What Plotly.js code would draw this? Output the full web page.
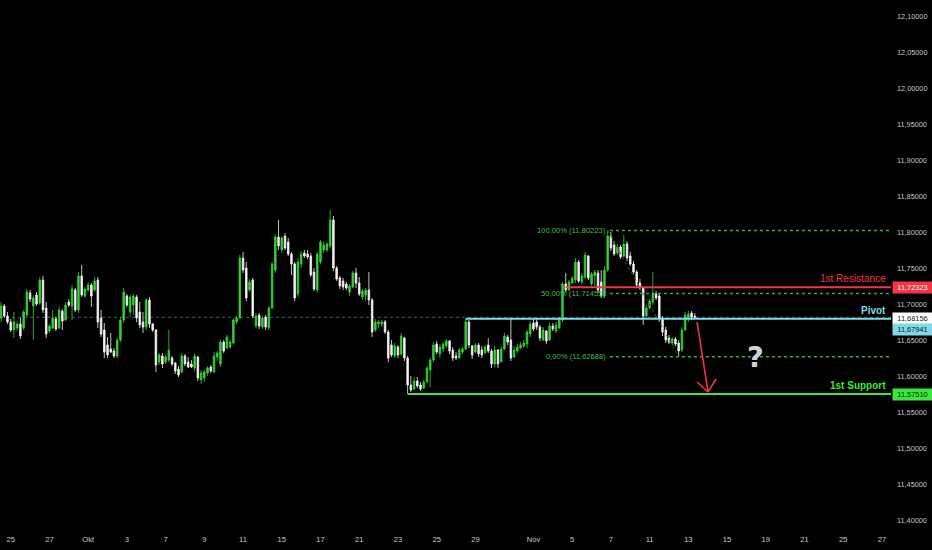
<!DOCTYPE html>
<html><head><meta charset="utf-8">
<script src="https://cdn.plot.ly/plotly-3.0.1.min.js"></script>
<style>html,body{margin:0;padding:0;background:#000;}#chart{width:932px;height:550px;}</style>
</head><body><div id="chart"></div>
<script>
// 4h candles, EUR/NOK-style, Sep 24 2024 12:00 .. Nov 13 2024 08:00 (index = candle number)
const openP = [
11.6806,11.6972,11.6833,11.6750,11.6639,11.6667,11.6722,11.6667,11.6847,11.7153,
11.6972,11.7125,11.7014,11.7333,11.6944,11.6625,11.6667,11.6792,11.6667,11.6903,
11.6778,11.7028,11.6972,11.7194,11.6917,11.7389,11.7111,11.7194,11.7264,11.7194,
11.7333,11.6806,11.6639,11.6431,11.6375,11.6347,11.6278,11.6500,11.6778,11.7111,
11.6889,11.6986,11.7097,11.6889,11.6750,11.6681,11.7056,11.6722,11.6639,11.6194,
11.6278,11.6194,11.6222,11.6250,11.6181,11.6097,11.6056,11.6278,11.6194,11.6167,
11.6111,11.6264,11.5944,11.5972,11.6042,11.6125,11.6056,11.6264,11.6167,11.6472,
11.6389,11.6403,11.6458,11.6750,11.6806,11.7639,11.7500,11.7194,11.7333,11.6694,
11.6847,11.6681,11.6819,11.6667,11.6944,11.7472,11.7931,11.7750,11.7944,11.7861,
11.7694,11.7556,11.7139,11.7556,11.7708,11.7694,11.7667,11.7444,11.7194,11.7583,
11.7750,11.7750,11.7806,11.8167,11.7500,11.7361,11.7319,11.7278,11.7167,11.7236,
11.7431,11.7292,11.7097,11.7125,11.7194,11.7056,11.6639,11.6722,11.6722,11.6750,
11.6611,11.6431,11.6278,11.6403,11.6306,11.6528,11.6250,11.5875,11.5819,11.5931,
11.5875,11.5833,11.5917,11.6083,11.6222,11.6444,11.6306,11.6375,11.6417,11.6486,
11.6361,11.6278,11.6250,11.6333,11.6375,11.6750,11.6417,11.6333,11.6431,11.6361,
11.6319,11.6431,11.6347,11.6167,11.6361,11.6194,11.6375,11.6542,11.6500,11.6264,
11.6347,11.6389,11.6417,11.6444,11.6583,11.6736,11.6750,11.6681,11.6500,11.6625,
11.6500,11.6694,11.6625,11.6667,11.6778,11.7278,11.7194,11.7292,11.7333,11.7583,
11.7306,11.7375,11.7667,11.7278,11.7389,11.7431,11.7306,11.7111,11.7472,11.7944,
11.7819,11.7708,11.7792,11.7667,11.7833,11.7667,11.7556,11.7444,11.7292,11.7222,
11.6833,11.6944,11.7028,11.7139,11.7111,11.6806,11.6639,11.6528,11.6458,11.6514,
11.6458,11.6361,11.6639,11.6806,11.6875,11.6833];
const highP = [
11.7028,11.7000,11.6889,11.6792,11.6889,11.6764,11.6806,11.6917,11.7208,11.7194,
11.7111,11.7167,11.7375,11.7389,11.7028,11.6722,11.6917,11.6819,11.6958,11.6931,
11.7028,11.7069,11.7264,11.7222,11.7444,11.7542,11.7236,11.7306,11.7292,11.7375,
11.7375,11.6917,11.6736,11.6542,11.6597,11.6389,11.6528,11.6819,11.7222,11.7139,
11.7125,11.7139,11.7125,11.7028,11.6889,11.7083,11.7097,11.6736,11.6653,11.6319,
11.6319,11.6292,11.6639,11.6278,11.6194,11.6139,11.6319,11.6306,11.6264,11.6222,
11.6306,11.6278,11.6083,11.6083,11.6139,11.6153,11.6333,11.6347,11.6500,11.6500,
11.6569,11.6500,11.6806,11.6833,11.7681,11.7722,11.7583,11.7347,11.7361,11.6875,
11.6875,11.6833,11.6847,11.6972,11.7583,11.7972,11.8167,11.7944,11.7986,11.7917,
11.7722,11.7583,11.7639,11.7736,11.7750,11.7750,11.7708,11.7500,11.7722,11.7889,
11.7875,11.7861,11.8306,11.8222,11.7528,11.7389,11.7361,11.7306,11.7278,11.7458,
11.7500,11.7375,11.7208,11.7222,11.7444,11.7083,11.6792,11.6778,11.6778,11.6778,
11.6639,11.6500,11.6458,11.6431,11.6597,11.6542,11.6278,11.6000,11.5986,11.5986,
11.5917,11.5944,11.6139,11.6250,11.6472,11.6486,11.6444,11.6472,11.6514,11.6500,
11.6403,11.6333,11.6389,11.6403,11.6794,11.6778,11.6431,11.6458,11.6458,11.6417,
11.6431,11.6528,11.6375,11.6417,11.6375,11.6417,11.6597,11.6569,11.6806,11.6417,
11.6444,11.6472,11.6500,11.6639,11.6764,11.6806,11.6806,11.6708,11.6681,11.6639,
11.6736,11.6736,11.6750,11.6819,11.7306,11.7431,11.7333,11.7389,11.7639,11.7611,
11.7431,11.7722,11.7681,11.7444,11.7472,11.7472,11.7472,11.7528,11.8022,11.8000,
11.7875,11.7833,11.7819,11.7958,11.7875,11.7722,11.7597,11.7472,11.7347,11.7250,
11.6986,11.7069,11.7444,11.7181,11.7153,11.6833,11.6681,11.6569,11.6542,11.6542,
11.6500,11.6681,11.6889,11.6903,11.6903,11.6875];
const lowP = [
11.6750,11.6806,11.6722,11.6611,11.6528,11.6625,11.6514,11.6639,11.6819,11.7028,
11.6500,11.6972,11.6986,11.6875,11.6528,11.6597,11.6653,11.6625,11.6653,11.6639,
11.6764,11.6958,11.6778,11.6889,11.6875,11.7097,11.7083,11.7167,11.6958,11.7167,
11.6667,11.6542,11.6250,11.6250,11.6319,11.6250,11.6250,11.6472,11.6736,11.6958,
11.6819,11.6847,11.6750,11.6667,11.6597,11.6639,11.6667,11.6611,11.6056,11.6153,
11.6111,11.6167,11.6194,11.6139,11.6028,11.5986,11.6042,11.6139,11.6111,11.6111,
11.6069,11.5931,11.5889,11.5917,11.6000,11.6042,11.6042,11.6208,11.6125,11.6319,
11.6375,11.6375,11.6444,11.6722,11.6792,11.7431,11.7042,11.7167,11.6806,11.6667,
11.6653,11.6653,11.6639,11.6639,11.6931,11.7431,11.7750,11.7708,11.7750,11.7667,
11.7403,11.7042,11.7097,11.7500,11.7639,11.7625,11.7375,11.7181,11.7153,11.7556,
11.7708,11.7722,11.7778,11.7458,11.7319,11.7208,11.7194,11.7194,11.7111,11.7222,
11.7222,11.7111,11.7056,11.7042,11.6986,11.6542,11.6611,11.6667,11.6681,11.6583,
11.6194,11.6264,11.6250,11.6250,11.6278,11.6208,11.5751,11.5778,11.5806,11.5833,
11.5792,11.5819,11.5903,11.5847,11.6194,11.6306,11.6250,11.6333,11.6389,11.6306,
11.6208,11.6222,11.6236,11.6306,11.6361,11.6389,11.6236,11.6319,11.6264,11.6250,
11.6306,11.6319,11.6111,11.6125,11.6111,11.6194,11.6361,11.6431,11.6208,11.6250,
11.6319,11.6375,11.6389,11.6389,11.6542,11.6625,11.6639,11.6486,11.6486,11.6444,
11.6486,11.6625,11.6597,11.6653,11.6750,11.7167,11.7181,11.7278,11.7292,11.7292,
11.7278,11.7347,11.7333,11.7250,11.7250,11.7153,11.7083,11.7083,11.7444,11.7736,
11.7667,11.7681,11.7625,11.7653,11.7597,11.7528,11.7417,11.7222,11.7194,11.6708,
11.6806,11.6931,11.6986,11.7056,11.6750,11.6556,11.6458,11.6444,11.6431,11.6417,
11.6269,11.6333,11.6625,11.6750,11.6778,11.6792];
const closeP = [
11.6972,11.6833,11.6750,11.6639,11.6750,11.6722,11.6556,11.6889,11.7167,11.7069,
11.7083,11.7000,11.7333,11.6917,11.6583,11.6694,11.6806,11.6653,11.6917,11.6764,
11.6986,11.6986,11.7208,11.6917,11.7389,11.7125,11.7208,11.7264,11.7111,11.7319,
11.6750,11.6583,11.6333,11.6292,11.6333,11.6278,11.6500,11.6778,11.7167,11.6986,
11.7097,11.7111,11.6806,11.6708,11.6681,11.7056,11.6722,11.6639,11.6153,11.6292,
11.6167,11.6264,11.6361,11.6167,11.6069,11.6014,11.6278,11.6167,11.6125,11.6125,
11.6278,11.5972,11.6042,11.6056,11.6111,11.6069,11.6278,11.6319,11.6472,11.6347,
11.6542,11.6472,11.6778,11.6806,11.7639,11.7472,11.7083,11.7306,11.6833,11.6833,
11.6694,11.6806,11.6681,11.6944,11.7556,11.7931,11.7806,11.7917,11.7778,11.7694,
11.7556,11.7083,11.7583,11.7694,11.7667,11.7653,11.7403,11.7208,11.7694,11.7861,
11.7819,11.7833,11.8167,11.7500,11.7347,11.7250,11.7236,11.7222,11.7250,11.7431,
11.7292,11.7139,11.7181,11.7194,11.7056,11.6611,11.6750,11.6750,11.6750,11.6611,
11.6250,11.6292,11.6417,11.6292,11.6556,11.6250,11.5875,11.5806,11.5931,11.5861,
11.5819,11.5917,11.6111,11.6222,11.6431,11.6333,11.6403,11.6444,11.6486,11.6347,
11.6250,11.6250,11.6361,11.6375,11.6750,11.6431,11.6292,11.6431,11.6306,11.6292,
11.6403,11.6347,11.6167,11.6361,11.6167,11.6375,11.6556,11.6472,11.6250,11.6361,
11.6403,11.6431,11.6458,11.6611,11.6722,11.6653,11.6681,11.6528,11.6639,11.6486,
11.6694,11.6653,11.6708,11.6778,11.7278,11.7194,11.7306,11.7361,11.7583,11.7319,
11.7389,11.7681,11.7361,11.7417,11.7444,11.7194,11.7111,11.7472,11.7944,11.7778,
11.7694,11.7792,11.7653,11.7833,11.7639,11.7556,11.7444,11.7264,11.7222,11.6833,
11.6944,11.7042,11.7139,11.7083,11.6806,11.6611,11.6500,11.6472,11.6514,11.6444,
11.6347,11.6639,11.6847,11.6861,11.6819,11.6816];

// time axis labels (candle index of the first 4h bar of each labelled day)
const tickIdx = [3,15,27,39,51,63,75,87,99,111,123,135,147,165,177,189,201,213,225,237,249,261,273];
const tickLabels = ['25','27','Okt','3','7','9','11','15','17','21','23','25','29','Nov','5','7','11','13','15','19','21','25','27'];

// horizontal levels
const levelNames = ['1st Resistance','Pivot','1st Support'];
const levelValues = [11.72323, 11.67941, 11.57510];
const levelStart = [175, 144, 126];
const levelColors = ['#f23645','#80d8e8','#3ce63c'];
const levelTextColors = ['#f23645','#80d8e8','#3ce63c'];
const levelBoxText = ['#ffffff','#0b1a1d','#0b1d0b'];

// fibonacci retracement
const fibLabels = ['100,00%','50,00%','0,00%'];
const fibValues = [11.80223, 11.71455, 11.62688];
const fibStart = 188, fibEnd = 210;

const lastPrice = 11.68156;

// projected move (arrow) and question mark
const arrowFrom = [215.7, 11.6750];
const arrowTo = [219.1, 11.5778];
const arrowArmL = [215.7, 11.5917];
const arrowArmR = [221.6, 11.5958];
const qMark = [233.7, 11.6270];

const X_RANGE = [-0.32, 275.8];
const Y_RANGE = [11.3903, 12.1222];

const fmt = v => v.toFixed(5).replace('.', ',');
const xs = openP.map((_, i) => i);

const trace = {
  type: 'candlestick', x: xs, open: openP, high: highP, low: lowP, close: closeP,
  increasing: {line: {color: '#36d036', width: 0.8}, fillcolor: '#36d036'},
  decreasing: {line: {color: '#f4f4f4', width: 0.8}, fillcolor: '#f4f4f4'},
  whiskerwidth: 0, hoverinfo: 'skip', showlegend: false
};

const shapes = [];
const annotations = [];
shapes.push({type:'line', xref:'paper', x0:0, x1:1, yref:'y', y0:lastPrice, y1:lastPrice,
  line:{color:'#55585f', width:1, dash:'dot'}, layer:'below'});

fibValues.forEach((v, k) => {
  shapes.push({type:'line', xref:'x', yref:'y', x0:fibStart + 0.7, x1:X_RANGE[1], y0:v, y1:v,
    line:{color:'#3faa3f', width:1.5, dash:'dot'}, layer:'above'});
  annotations.push({xref:'x', yref:'y', x:fibStart + 0.2, y:v, xanchor:'right', yanchor:'middle',
    text: fibLabels[k] + ' (' + fmt(v) + ')', showarrow:false,
    font:{family:'Liberation Sans', size:7.6, color:'#4cbb4c'}});
});
shapes.push({type:'line', xref:'x', yref:'y', x0:fibStart, x1:fibEnd, y0:fibValues[0], y1:fibValues[2],
  line:{color:'#1f6b1f', width:1, dash:'dot'}, layer:'above'});

levelValues.forEach((v, k) => {
  shapes.push({type:'line', xref:'x', yref:'y', x0:levelStart[k], x1:X_RANGE[1], y0:v, y1:v,
    line:{color:levelColors[k], width:2}, layer:'above'});
  annotations.push({xref:'x', yref:'y', x:X_RANGE[1], y:v, xanchor:'right', yanchor:'bottom',
    xshift:-3, yshift:1, text: levelNames[k], showarrow:false,
    font:{family:'Liberation Sans', size:10, color:levelTextColors[k], weight: k === 0 ? 'normal' : 'bold'}});
});

// price-scale boxes
const boxes = [
  {v: levelValues[0], text: fmt(levelValues[0]), bg: levelColors[0], fc: levelBoxText[0], shift: 0},
  {v: lastPrice, text: fmt(lastPrice), bg: '#ffffff', fc: '#131722', shift: -1},
  {v: levelValues[1], text: fmt(levelValues[1]), bg: levelColors[1], fc: levelBoxText[1], shift: -11},
  {v: levelValues[2], text: fmt(levelValues[2]), bg: levelColors[2], fc: levelBoxText[2], shift: -1}
];
boxes.forEach(b => {
  annotations.push({xref:'paper', yref:'y', x:1, y:b.v, xanchor:'left', yanchor:'middle',
    xshift:1, yshift:b.shift, text:b.text, showarrow:false, bgcolor:b.bg, borderpad:1,
    width:37, height:9, align:'center',
    font:{family:'Liberation Sans', size:7.4, color:b.fc}});
});

// arrow
[[arrowFrom, arrowTo], [arrowArmL, arrowTo], [arrowArmR, arrowTo]].forEach(seg => {
  shapes.push({type:'line', xref:'x', yref:'y', x0:seg[0][0], y0:seg[0][1], x1:seg[1][0], y1:seg[1][1],
    line:{color:'#f23645', width:1.6}, layer:'above'});
});
annotations.push({xref:'x', yref:'y', x:qMark[0], y:qMark[1], text:'?', showarrow:false,
  xanchor:'center', yanchor:'middle',
  font:{family:'DejaVu Sans', size:29, color:'#d0d2d8', weight:'bold'}});

const layout = {
  width: 932, height: 550,
  margin: {l:0, r:41, t:0, b:23, pad:0},
  paper_bgcolor:'#000000', plot_bgcolor:'#000000',
  separators: ',.',
  showlegend:false,
  dragmode:false,
  xaxis: {type:'linear', range:X_RANGE, rangeslider:{visible:false}, showgrid:false, zeroline:false,
    showline:false, tickmode:'array', tickvals:tickIdx, ticktext:tickLabels, ticks:'',
    ticklabelstandoff:6,
    tickfont:{family:'Liberation Sans', size:7.6, color:'#c8cad0'}},
  yaxis: {range:Y_RANGE, side:'right', showgrid:false, zeroline:false, showline:false,
    tick0:11.4, dtick:0.05, tickformat:'.5f', ticks:'', ticklabelstandoff:5,
    tickfont:{family:'Liberation Sans', size:7.3, color:'#c3c6cc'}},
  shapes: shapes,
  annotations: annotations
};

Plotly.newPlot('chart', [trace], layout, {displayModeBar:false, staticPlot:true});
</script>
</body></html>
